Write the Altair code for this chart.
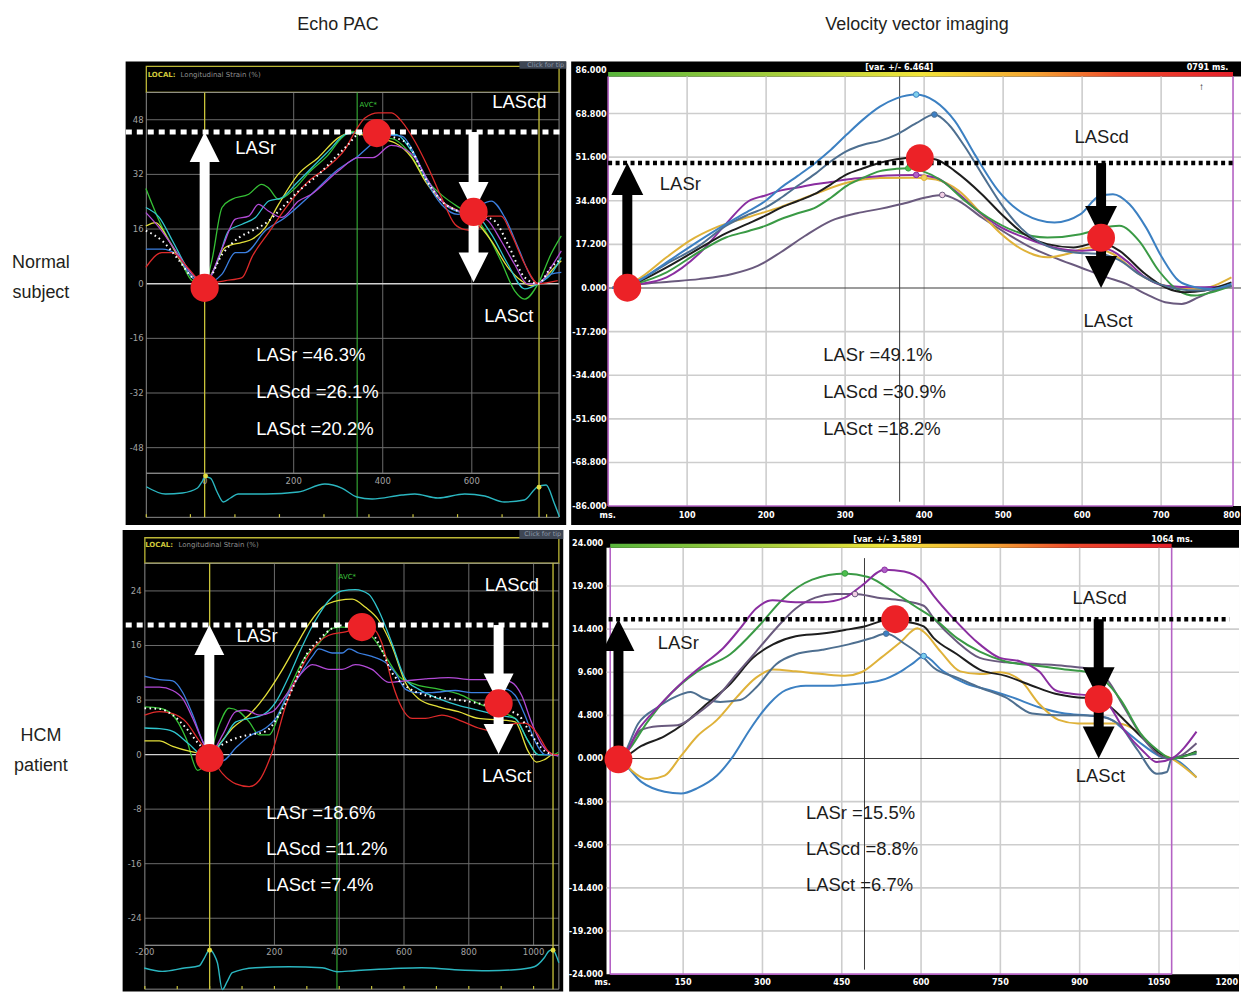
import altair as alt
import pandas as pd

SANS = "Liberation Sans, Arial, Helvetica, sans-serif"
NARROW = "Liberation Sans Narrow, Arial Narrow, DejaVu Sans Condensed, Liberation Sans, sans-serif"
SMALL = "DejaVu Sans, Verdana, sans-serif"

# ------------------------------------------------------------------ texts
col_titles = ["Echo PAC", "Velocity vector imaging"]
row_normal = ["Normal", "subject"]
row_hcm = ["HCM", "patient"]

# ================================================================== Panel A : Echo PAC, normal subject
A_green = [(-132, 27.9), (-95, 16.4), (-57, 7.7), (-28, 0.9), (0, 0), (16, 6.7), (39, 22.3), (61, 24.7),
           (99, 26.2), (128, 29.1), (143, 28.1), (166, 24.7), (204, 28.1), (234, 32.5), (278, 37.8),
           (308, 42.7), (331, 44.6), (353, 44.2), (383, 42.7), (420, 42.5), (457, 38.8), (494, 31.0),
           (532, 26.0), (569, 22.5), (606, 19.6), (637, 14.0), (666, 6.5), (696, -2.0), (719, -4.5),
           (749, 0), (778, 8.7), (801, 14.0)]
A_yellow = [(-132, 16.9), (-110, 17.9), (-80, 12.5), (-50, 5.7), (-20, 0.9), (0, 0), (20, 4.0), (46, 10.6),
            (84, 12.1), (106, 13.0), (136, 16.4), (166, 23.2), (210, 32.0), (255, 36.9), (300, 42.7),
            (330, 44.2), (350, 43.7), (383, 42.7), (428, 41.2), (465, 36.9), (495, 30.1), (532, 24.2),
            (569, 21.3), (607, 18.4), (644, 12.5), (681, 4.8), (711, 0.9), (734, -0.6), (749, 0),
            (786, 4.8), (801, 6.7)]
A_cyan = [(-132, 22.3), (-102, 19.4), (-72, 12.5), (-35, 3.8), (0, 0), (32, 7.7), (54, 15.5), (84, 17.4),
          (114, 19.4), (144, 24.2), (174, 25.2), (204, 29.1), (241, 34.0), (278, 38.8), (316, 43.7),
          (338, 44.2), (383, 43.7), (428, 43.7), (465, 38.8), (502, 30.1), (540, 23.2), (577, 20.8),
          (607, 20.3), (644, 14.5), (681, 5.7), (719, -1.5), (749, 0), (778, 2.8), (801, 7.7)]
A_blue = [(-132, 10.1), (-95, 10.1), (-65, 8.7), (-28, 1.8), (0, 0), (39, 2.8), (69, 9.1), (91, 9.1),
          (136, 15.5), (181, 19.4), (240, 26.2), (300, 33.5), (345, 37.4), (375, 40.8), (412, 43.5),
          (443, 43.2), (472, 37.8), (502, 29.1), (532, 23.2), (569, 20.3), (607, 22.3), (644, 24.2),
          (674, 19.4), (704, 10.6), (734, 1.8), (749, 0), (778, 2.8), (801, 3.3)]
A_purple = [(-132, 20.8), (-102, 16.4), (-65, 9.6), (-28, 2.8), (0, 0), (40, 10.6), (69, 18.9), (99, 19.8),
            (121, 23.2), (143, 21.3), (173, 19.4), (211, 24.2), (240, 26.2), (300, 33.0), (345, 36.9),
            (378, 36.9), (419, 40.5), (443, 39.8), (472, 36.9), (502, 30.1), (532, 24.2), (569, 21.3),
            (607, 20.3), (637, 18.4), (666, 12.5), (696, 5.7), (726, -0.1), (749, 0), (778, 4.8), (801, 9.6)]
A_red = [(-132, 4.8), (-96, 9.1), (-73, 9.1), (-40, 5.0), (0, 0), (47, 0.9), (84, 1.8), (107, 8.0),
         (144, 15.0), (181, 22.0), (234, 30.1), (278, 34.4), (316, 39.5), (340, 45.0), (360, 48.5),
         (390, 50.0), (420, 50.0), (442, 47.6), (472, 41.7), (502, 34.0), (532, 25.2), (562, 17.4),
         (585, 15.8), (607, 15.5), (637, 19.8), (666, 19.8), (689, 14.5), (719, 5.7), (749, 0), (793, 0.9)]
A_average = [(-132, 15.5), (-95, 12.5), (-57, 6.7), (-28, 1.8), (0, 0), (40, 8.7), (77, 13.5), (107, 15.5),
             (144, 18.4), (174, 22.3), (211, 27.1), (256, 32.0), (293, 36.9), (323, 40.8), (346, 43.7),
             (383, 43.7), (428, 42.7), (457, 40.8), (495, 31.0), (532, 24.2), (569, 21.3), (607, 20.3),
             (651, 18.4), (681, 11.6), (719, 1.8), (749, 0), (778, 4.8), (801, 7.2)]
A_ecg = [(-131, 13.3), (-88, 6), (-50, 7), (-16, 12), (-5, 19), (2, 23), (13, 22), (28, 8), (42, -2),
         (58, 2), (75, 6), (136, 6), (210, 8), (270, 16), (308, 12), (342, 3), (376, 1), (443, 5),
         (472, 6), (524, 2), (584, 6), (629, 4), (673, -2), (718, 0), (747, 13), (767, 15), (785, -3), (797, -17)]
A_yticks = [48, 32, 16, 0, -16, -32, -48]
A_xticks = [0, 200, 400, 600]
A_ecg_ticks = [-131, -32, 68, 168, 268, 369, 468, 568, 668, 768]
A_lasr = 44.4
A_points = [(0, -1.2), (386.6, 44.1), (604, 21.0)]
A_results = ["LASr =46.3%", "LAScd =26.1%", "LASct =20.2%"]

# ================================================================== Panel B : VVI, normal subject
B_blue = [(5, 0), (36, 2.5), (74, 10.1), (115, 18.6), (149, 25.2), (178, 30.4), (199, 34.3), (219, 39.6),
          (240, 44.2), (261, 49.0), (282, 54.5), (302, 60.5), (323, 66.5), (344, 71.5), (365, 74.8),
          (390, 76.3), (414, 73.6), (439, 65.8), (464, 52.7), (494, 38.3), (527, 29.1), (565, 25.8),
          (598, 29.1), (622, 36.3), (639, 37.0), (660, 33.0), (681, 23.8), (701, 12.1), (722, 2.9),
          (743, 0.3), (764, -0.4), (789, 1.6)]
B_steel = [(5, 0), (36, 2.5), (74, 9.5), (115, 16.6), (149, 24.5), (178, 29.0), (199, 31.7), (219, 35.6),
           (240, 40.3), (261, 44.8), (282, 50.0), (302, 54.0), (323, 56.5), (344, 58.0), (365, 60.5),
           (390, 65.0), (413, 68.4), (431, 64.5), (451, 56.0), (473, 45.0), (500, 32.0), (523, 23.5),
           (556, 16.5), (590, 14.0), (623, 13.4), (647, 11.0), (672, 5.5), (697, 1.6), (722, -0.4),
           (747, -1.0), (789, 0.9)]
B_black = [(5, 0), (36, 2.2), (74, 8.1), (115, 15.5), (149, 21.5), (178, 25.5), (199, 28.5), (219, 31.7),
           (240, 34.3), (261, 37.0), (282, 40.9), (302, 44.8), (323, 47.2), (344, 49.4), (365, 50.8),
           (390, 51.6), (415, 50.7), (439, 46.1), (473, 37.0), (498, 29.1), (527, 21.2), (556, 17.3),
           (589, 16.0), (622, 18.0), (647, 14.7), (680, 5.5), (705, 0.3), (730, -1.7), (755, -1.0), (789, 2.2)]
B_green = [(5, 0), (36, 1.8), (74, 6.2), (115, 14.2), (149, 19.9), (178, 22.5), (199, 24.5), (219, 27.2),
           (240, 29.5), (261, 31.5), (282, 35.6), (302, 40.3), (323, 43.5), (344, 46.1), (365, 47.0),
           (380, 47.2), (398, 46.1), (423, 42.2), (452, 34.3), (481, 27.8), (514, 22.5), (556, 19.9),
           (598, 21.2), (627, 23.8), (647, 24.5), (672, 18.6), (697, 6.8), (722, -1.0), (743, -3.0),
           (764, -1.7), (789, 0.9)]
B_purple = [(5, 0), (36, 1.3), (74, 4.2), (115, 13.5), (149, 25.2), (178, 34.3), (199, 36.5), (219, 38.5),
            (240, 39.6), (261, 40.9), (282, 41.8), (302, 42.8), (323, 43.5), (344, 44.2), (365, 44.5),
            (390, 44.6), (415, 43.5), (439, 38.3), (473, 29.1), (498, 23.8), (527, 19.9), (564, 16.0),
            (598, 14.7), (631, 15.3), (656, 10.7), (680, 4.2), (705, 0.9), (747, 0.3), (789, 0.7)]
B_gold = [(5, 0), (36, 3.1), (74, 12.1), (103, 18.6), (136, 23.8), (178, 28.0), (219, 32.0), (261, 37.0),
          (302, 41.5), (344, 43.4), (390, 43.5), (415, 42.8), (444, 38.3), (473, 29.1), (498, 21.2),
          (527, 14.7), (556, 12.1), (581, 13.4), (610, 16.0), (639, 13.4), (672, 5.5), (705, 0.9),
          (747, -0.4), (789, 4.2)]
B_lavender = [(5, 0), (36, 1.3), (74, 2.4), (115, 3.5), (157, 5.5), (190, 8.8), (219, 14.2), (249, 20.5),
              (282, 26.5), (315, 29.5), (344, 31.2), (373, 33.2), (402, 35.7), (423, 36.7), (444, 34.3),
              (473, 27.8), (506, 21.2), (535, 16.0), (564, 12.1), (598, 8.1), (631, 4.2), (656, 1.6),
              (681, -2.4), (705, -5.6), (726, -6.3), (747, -3.7), (772, -0.4), (789, 0.9)]
B_peaks = [("blue", 390, 76.3), ("steel", 413, 68.4), ("green", 380, 47.2), ("purple", 390, 44.6),
           ("gold", 400, 43.5), ("lavender", 423, 36.7)]
B_yticks = [86.0, 68.8, 51.6, 34.4, 17.2, 0.0, -17.2, -34.4, -51.6, -68.8, -86.0]
B_xticks = [100, 200, 300, 400, 500, 600, 700, 800]
B_lasr = 49.25
B_points = [(24.3, 0.1), (394.6, 51.2), (624, 19.8)]
B_results = ["LASr =49.1%", "LAScd =30.9%", "LASct =18.2%"]

# ================================================================== Panel C : Echo PAC, HCM patient
C_blue = [(-201, 11.5), (-155, 11.0), (-114, 10.8), (-83, 9.1), (-52, 5.8), (-22, 2.0), (0, 0), (40, -0.9),
          (81, 1.0), (122, 2.7), (173, 3.9), (204, 5.3), (235, 8.2), (276, 11.5), (317, 14.4), (337, 15.5),
          (378, 14.9), (409, 14.9), (430, 15.5), (460, 14.9), (501, 14.4), (543, 13.5), (573, 12.0),
          (604, 9.6), (635, 9.1), (686, 9.1), (758, 9.4), (809, 9.1), (871, 9.1), (912, 9.6), (943, 8.7),
          (973, 5.8), (1004, 2.0), (1035, 0), (1060, 0), (1076, -0.2)]
C_purple = [(-201, 9.9), (-155, 9.9), (-114, 9.4), (-83, 8.2), (-52, 5.3), (-22, 2.0), (0, 0), (40, 2.9),
            (81, 6.3), (112, 6.5), (153, 5.8), (194, 6.3), (235, 8.7), (276, 11.5), (317, 13.2), (368, 12.5),
            (409, 12.5), (450, 13.2), (501, 12.5), (553, 10.6), (604, 10.8), (666, 11.1), (738, 11.3),
            (809, 11.0), (891, 11.0), (932, 10.6), (963, 8.7), (993, 4.8), (1025, 1.5), (1060, 0), (1076, -0.2)]
C_green = [(-201, 7.0), (-155, 6.8), (-114, 5.8), (-73, 2.4), (-37, -2.3), (0, 0), (30, 4.4), (60, 6.8),
           (91, 6.3), (122, 4.8), (153, 2.9), (184, 2.9), (214, 5.8), (255, 10.6), (296, 14.4), (337, 16.3),
           (378, 18.5), (409, 18.7), (450, 18.5), (501, 17.3), (543, 14.4), (584, 11.5), (635, 10.3),
           (707, 9.6), (768, 8.9), (830, 7.5), (891, 6.3), (943, 5.3), (983, 2.0), (1014, 0), (1060, 0), (1076, 0.3)]
C_yellow = [(-201, 2.0), (-155, 2.0), (-114, 1.2), (-63, 0.5), (0, 0), (30, 1.5), (71, 3.9), (122, 5.8),
            (173, 8.7), (225, 12.5), (266, 15.9), (307, 19.2), (348, 21.6), (399, 22.6), (440, 22.8),
            (481, 21.6), (522, 19.7), (563, 15.9), (604, 10.6), (645, 8.2), (707, 7.0), (768, 6.3),
            (830, 5.3), (891, 5.1), (943, 4.8), (983, 0.5), (1009, -1.1), (1035, -0.7), (1060, 0), (1076, 0)]
C_cyan = [(-201, 3.9), (-155, 3.8), (-114, 3.4), (-63, 1.5), (-22, 0), (0, 0), (40, 2.0), (81, 4.8),
          (122, 5.3), (163, 5.8), (204, 7.7), (245, 11.5), (286, 15.9), (327, 19.7), (368, 22.6), (409, 24.0),
          (450, 24.2), (491, 23.5), (522, 21.1), (563, 16.3), (604, 11.1), (645, 9.6), (707, 8.2),
          (768, 7.2), (830, 6.5), (891, 5.8), (943, 5.3), (983, 2.0), (1014, 0), (1060, 0), (1076, 0)]
C_red = [(-201, 5.8), (-155, 6.3), (-114, 6.0), (-73, 4.8), (-32, 2.0), (0, 0), (40, -2.8), (81, -4.3),
         (122, -4.7), (153, -3.8), (194, 0.5), (235, 7.2), (276, 12.0), (317, 15.4), (368, 17.5), (419, 18.0),
         (460, 18.5), (501, 18.5), (532, 16.3), (563, 10.6), (594, 6.8), (625, 5.3), (666, 5.3), (717, 5.8),
         (768, 5.1), (830, 3.9), (881, 3.4), (922, 4.4), (973, 4.6), (1014, 2.9), (1045, 0.5), (1060, 0), (1076, 0)]
C_average = [(-201, 6.8), (-155, 6.7), (-114, 5.8), (-73, 3.9), (-32, 1.5), (0, 0), (40, 1.5), (81, 2.4),
             (122, 2.9), (173, 3.4), (214, 5.8), (255, 9.6), (296, 14.4), (337, 16.8), (378, 18.5), (419, 19.0),
             (481, 18.7), (522, 16.3), (563, 12.0), (604, 10.1), (666, 8.7), (738, 8.2), (809, 7.7),
             (891, 6.8), (953, 5.8), (993, 2.9), (1035, 0.5), (1060, 0)]
C_ecg = [(-202, 6.7), (-146, 3.3), (-78, 6.7), (-32, 9), (-16, 17), (0, 25), (14, 20), (24, 12), (39, -15),
         (54, -7), (70, 2), (141, 7), (245, 8), (347, 7), (393, 3), (447, 4), (655, 7), (756, 5), (861, 4),
         (941, 5), (1002, 8), (1033, 17), (1048, 24), (1060, 25), (1070, 19), (1078, 12)]
C_yticks = [24, 16, 8, 0, -8, -16, -24]
C_xticks = [-200, 200, 400, 600, 800, 1000]
C_ecg_ticks = [-200, -100, 0, 100, 200, 300, 400, 500, 600, 700, 800, 900, 1000]
C_lasr = 19.0
C_points = [(0, -0.5), (470, 18.7), (892, 7.5)]
C_results = ["LASr =18.6%", "LAScd =11.2%", "LASct =7.4%"]

# ================================================================== Panel D : VVI, HCM patient
D_purple = [(12, 0), (34, 0.1), (65, 3.2), (102, 5.7), (145, 8.3), (189, 10.5), (226, 12.3), (258, 14.5),
            (288, 16.7), (319, 17.6), (363, 17.4), (413, 17.4), (456, 17.9), (487, 19.2), (531, 21.0),
            (568, 20.8), (605, 19.6), (624, 18.1), (661, 15.6), (711, 12.7), (749, 11.2), (788, 10.8),
            (823, 9.7), (854, 7.6), (885, 7.2), (922, 7.0), (953, 6.1), (984, 3.2), (1022, 0.7), (1046, -0.4),
            (1074, 0), (1121, 3.0)]
D_green = [(12, 0), (34, 0.3), (84, 4.2), (115, 6.5), (177, 9.7), (239, 11.6), (294, 14.8), (338, 17.7),
           (394, 19.9), (456, 20.6), (500, 20.2), (549, 18.5), (587, 17.0), (624, 15.6), (668, 13.4),
           (711, 11.9), (760, 10.8), (823, 10.3), (872, 9.9), (915, 9.6), (946, 8.7), (978, 6.5),
           (1015, 2.8), (1046, 1.0), (1074, 0), (1121, 0.7)]
D_lavender = [(12, 0), (34, 0.3), (71, 3.2), (102, 3.6), (139, 3.7), (177, 5.0), (214, 6.8), (251, 9.4),
              (288, 11.9), (326, 14.5), (363, 16.7), (400, 17.9), (437, 18.3), (475, 18.3), (518, 17.9),
              (562, 17.6), (605, 17.0), (624, 15.6), (668, 13.0), (711, 11.2), (760, 10.7), (823, 10.5),
              (872, 10.3), (922, 9.9), (953, 8.7), (984, 5.7), (1022, 2.1), (1053, 0.3), (1074, 0), (1121, 1.7)]
D_black = [(12, 0), (34, 0.1), (71, 1.4), (115, 2.5), (152, 3.9), (195, 6.1), (239, 8.3), (282, 11.2),
           (320, 12.7), (363, 13.6), (413, 13.9), (456, 14.3), (493, 14.7), (537, 15.4), (574, 15.2),
           (605, 14.7), (624, 13.4), (668, 11.6), (711, 9.9), (760, 9.2), (810, 8.1), (854, 7.2), (897, 6.8),
           (934, 6.7), (959, 5.7), (991, 3.9), (1022, 2.1), (1053, 0.5), (1074, 0), (1121, 0.8)]
D_steel = [(12, 0), (34, 0.3), (65, 3.9), (102, 5.7), (133, 6.8), (164, 7.4), (189, 6.7), (220, 6.3),
           (258, 6.5), (288, 7.9), (326, 10.5), (363, 11.6), (413, 12.1), (463, 12.7), (506, 13.4),
           (534, 13.9), (568, 12.8), (605, 11.2), (624, 10.1), (668, 9.0), (711, 7.9), (760, 6.8), (810, 5.0),
           (854, 4.8), (897, 4.8), (934, 4.7), (972, 3.9), (1009, 1.0), (1046, -1.7), (1065, -1.5),
           (1074, 0), (1121, 0.5)]
D_gold = [(12, 0), (34, -0.1), (52, -1.3), (84, -2.3), (115, -1.9), (146, 0.3), (177, 2.5), (214, 4.3),
          (251, 6.8), (288, 9.0), (320, 9.9), (363, 9.7), (413, 9.4), (456, 9.2), (487, 9.6), (524, 11.2),
          (562, 13.0), (593, 14.5), (605, 14.1), (637, 11.9), (674, 9.7), (711, 9.4), (749, 9.6), (788, 8.7),
          (823, 6.1), (860, 4.3), (897, 3.9), (940, 3.9), (972, 3.9), (1009, 3.0), (1046, 0.7), (1074, 0),
          (1121, -2.1)]
D_blue = [(12, 0), (34, -0.4), (71, -2.6), (115, -3.7), (146, -3.9), (177, -3.3), (214, -1.9), (245, 0.3),
          (276, 3.2), (313, 6.1), (344, 7.6), (382, 8.1), (425, 8.1), (475, 8.3), (524, 8.7), (562, 9.7),
          (587, 10.7), (605, 11.4), (642, 9.7), (686, 8.3), (730, 7.6), (773, 6.8), (823, 5.7), (872, 5.0),
          (915, 4.8), (953, 4.5), (984, 3.2), (1022, 1.4), (1059, 0.1), (1074, 0), (1121, -2.1)]
D_peaks = [("green", 456, 20.6), ("purple", 531, 21.0), ("lavender", 475, 18.3), ("steel", 534, 13.9),
           ("blue", 605, 11.4)]
D_yticks = [24.0, 19.2, 14.4, 9.6, 4.8, 0.0, -4.8, -9.6, -14.4, -19.2, -24.0]
D_xticks = [150, 300, 450, 600, 750, 900, 1050, 1200]
D_lasr = 15.5
D_points = [(27.6, -0.1), (551, 15.5), (936, 6.6)]
D_results = ["LASr =15.5%", "LAScd =8.8%", "LASct =6.7%"]

# ------------------------------------------------------------------ styles
ECHO_COLORS = {"green": "#36c236", "yellow": "#e4e03a", "cyan": "#30c6cf", "blue": "#3b7fe0",
               "purple": "#b24ad6", "red": "#de2a2a"}
VVI_COLORS = {"blue": "#3c80c2", "steel": "#4e6f90", "black": "#1e1e1e", "green": "#3a9a45",
              "purple": "#8a2ea0", "gold": "#dfb23a", "lavender": "#6a5a7e"}
VVI_FILL = {"blue": "#7fd0ec", "steel": "#3d7fc4", "green": "#4cc04c", "purple": "#b060c8",
            "gold": "#f0d060", "lavender": "#f2cfe4", "black": "#444444"}
RED_DOT = "#ec2227"
GRAD = alt.Gradient(gradient="linear", x1=0, x2=1, y1=0, y2=0,
                    stops=[alt.GradientStop(color="#58b53c", offset=0),
                           alt.GradientStop(color="#a9cf3e", offset=0.28),
                           alt.GradientStop(color="#f2e43a", offset=0.5),
                           alt.GradientStop(color="#f4a533", offset=0.68),
                           alt.GradientStop(color="#ee4a2c", offset=0.82),
                           alt.GradientStop(color="#e51f2a", offset=1)])


class Panel:
    def __init__(self, W, H, xd, yd):
        self.W, self.H, self.xd, self.yd = W, H, xd, yd
        self.xs = alt.Scale(domain=list(xd), nice=False, zero=False)
        self.ys = alt.Scale(domain=list(yd), nice=False, zero=False)
        self.ppu = H / (yd[1] - yd[0])
        self.ppx = W / (xd[1] - xd[0])
        self.L = []

    def X(self, f="x"):
        return alt.X(f + ":Q", scale=self.xs, axis=None)

    def Y(self, f="y"):
        return alt.Y(f + ":Q", scale=self.ys, axis=None)

    def rect(self, x, x2, y, y2, **mk):
        df = pd.DataFrame([{"x": x, "x2": x2, "y": y, "y2": y2}])
        self.L.append(alt.Chart(df).mark_rect(**mk).encode(
            x=self.X(), x2=alt.X2("x2:Q"), y=self.Y(), y2=alt.Y2("y2:Q")))

    def segs(self, rows, **mk):
        df = pd.DataFrame(rows, columns=["x", "y", "x2", "y2"])
        self.L.append(alt.Chart(df).mark_rule(**mk).encode(
            x=self.X(), y=self.Y(), x2=alt.X2("x2:Q"), y2=alt.Y2("y2:Q")))

    def text(self, rows, **mk):
        df = pd.DataFrame(rows, columns=["x", "y", "t"])
        self.L.append(alt.Chart(df).mark_text(**mk).encode(x=self.X(), y=self.Y(), text="t:N"))

    def curves(self, named, colors, **mk):
        rows = []
        for name, pts in named.items():
            for i, (x, y) in enumerate(pts):
                rows.append({"s": name, "x": x, "y": y, "o": i, "c": colors[name]})
        self.L.append(alt.Chart(pd.DataFrame(rows)).mark_line(**mk).encode(
            x=self.X(), y=self.Y(), detail="s:N", order="o:Q", color=alt.Color("c:N", scale=None)))

    def line(self, pts, **mk):
        df = pd.DataFrame([{"x": x, "y": y, "o": i} for i, (x, y) in enumerate(pts)])
        self.L.append(alt.Chart(df).mark_line(**mk).encode(x=self.X(), y=self.Y(), order="o:Q"))

    def dots(self, pts, **mk):
        df = pd.DataFrame(pts, columns=["x", "y"])
        self.L.append(alt.Chart(df).mark_circle(**mk).encode(x=self.X(), y=self.Y()))

    def markers(self, peaks, stroke, fill, size=32):
        df = pd.DataFrame([{"x": x, "y": y, "c": stroke[n], "f": fill[n]} for n, x, y in peaks])
        self.L.append(alt.Chart(df).mark_circle(size=size, opacity=1, strokeWidth=1).encode(
            x=self.X(), y=self.Y(), fill=alt.Fill("f:N", scale=None), stroke=alt.Stroke("c:N", scale=None)))

    def arrows(self, arrs, color, shaft, head):
        hl = head / self.ppu
        sh, up, dn = [], [], []
        for x, y0, y1 in arrs:
            d = 1 if y1 > y0 else -1
            sh.append((x, y0, x, y1 - d * hl * 0.85))
            (up if d > 0 else dn).append((x, y1 - d * hl / 2))
        self.segs(sh, color=color, strokeWidth=shaft, strokeCap="butt")
        for pts, path in ((up, "M-1,1L0,-1L1,1Z"), (dn, "M-1,-1L0,1L1,-1Z")):
            if pts:
                df = pd.DataFrame(pts, columns=["x", "y"])
                self.L.append(alt.Chart(df).mark_point(shape=path, size=head * head, filled=True, opacity=1,
                                                       color=color, strokeWidth=0).encode(x=self.X(), y=self.Y()))

    def chart(self):
        return alt.layer(*self.L).properties(width=self.W, height=self.H)


def big_text(P, rows, color):
    P.text(rows, color=color, fontSize=18.5, font=SANS, align="left", baseline="middle")


# ------------------------------------------------------------------ Echo PAC builder
def echo_panel(W, H, xd, yd, g, curves, avg, ecg, yticks, xticks, ecg_ticks, lasr, points, arrows,
               notes, results):
    P = Panel(W, H, xd, yd)
    P.rect(xd[0], xd[1], yd[0], yd[1], color="black")
    # header box
    P.rect(g["x0"], g["x1"], g["top"], g["htop"], fillOpacity=0, stroke="#bdb736", strokeWidth=1.3)
    P.text([(g["local_x"], g["htext"], "LOCAL:")], color="#cfc83a", fontSize=7, font=SMALL,
           fontWeight="bold", align="left", baseline="middle")
    P.text([(g["lsx"], g["htext"], "Longitudinal Strain (%)")], color="#8e8e8e", fontSize=7, font=SMALL,
           align="left", baseline="middle")
    P.rect(g["tip_x"], xd[1], g["tip_y"], yd[1], color="#3e4654")
    P.text([(xd[1] - 2 / P.ppx, yd[1] - 4.0 / P.ppu, "Click for tip")],
           color="#8f9aa8", fontSize=6.5, font=SMALL, align="right", baseline="middle")
    # grid
    P.segs([(g["x0"], v, g["x1"], v) for v in yticks if v != 0], color="#6c6c6c", strokeWidth=1)
    P.segs([(x, g["bot"], x, g["top"]) for x in g["vgrid"]], color="#6c6c6c", strokeWidth=1)
    P.segs([(g["x0"], 0, g["x1"], 0)], color="#d2d2d2", strokeWidth=1.4)
    P.rect(g["x0"], g["x1"], g["bot"], g["top"], fillOpacity=0, stroke="#8c8c8c", strokeWidth=1)
    P.rect(g["x0"], g["x1"], g["sbot"], g["bot"], fillOpacity=0, stroke="#8c8c8c", strokeWidth=1)
    P.segs([(x, g["top"], x, g["sbot"]) for x in g["yellow"]], color="#c9c33a", strokeWidth=1.3)
    P.segs([(g["avc"], g["top"], g["avc"], g["sbot"])], color="#3cc23c", strokeWidth=1)
    P.text([(g["avc_lx"], g["avc_ly"], "AVC*")], color="#3cc23c", fontSize=7, font=SMALL, align="left",
           baseline="middle")
    P.text([(g["ylab_x"], v, str(v)) for v in yticks], color="#a3a3a3", fontSize=8.5, font=SMALL,
           align="right", baseline="middle")
    # ECG strip
    P.segs([(x, g["sbot"], x, g["sbot"] + 3.2 / P.ppu) for x in ecg_ticks], color="#c9c33a", strokeWidth=1.2)
    P.text([(x, g["xlab_y"], str(x)) for x in xticks], color="#a3a3a3", fontSize=8.5, font=SMALL,
           align="center", baseline="middle")
    P.line([(x, g["ecg_base"] + a / P.ppu) for x, a in ecg], color="#2bb6c0", strokeWidth=1.4,
           interpolate="monotone")
    P.dots([(x, y) for x, y in g["ecg_dots"]], size=24, color="#e2dc40", opacity=1)
    # strain curves
    P.curves(curves, ECHO_COLORS, strokeWidth=1.3, interpolate="monotone")
    P.line(avg, color="white", strokeWidth=2, strokeDash=[1.6, 3.4], interpolate="monotone")
    # LASr reference level
    P.segs([(g["dot_x0"], lasr, g["dot_x1"], lasr)], color="white", strokeWidth=5, strokeDash=[6, 5])
    P.arrows(arrows, "white", 10, 30)
    P.dots(points, size=800, color=RED_DOT, opacity=1)
    big_text(P, notes, "white")
    big_text(P, [(g["res_x"], y, t) for y, t in zip(g["res_y"], results)], "white")
    return P.chart()


# ------------------------------------------------------------------ VVI builder
def vvi_panel(W, H, xd, yd, g, curves, peaks, yticks, xticks, lasr, points, arrows, notes, results):
    P = Panel(W, H, xd, yd)
    P.rect(xd[0], xd[1], yd[0], yd[1], color="black")
    P.rect(g["wx0"], xd[1], g["bot"], g["wtop"], color="white")
    P.rect(g["p0"], g["p1"], g["wtop"], g["gtop"], color=GRAD)
    P.segs([(g["wx0"], v, xd[1], v) for v in yticks if g["bot"] < v < g["wtop"] and v != 0],
           color="#cdcdcd", strokeWidth=1.6)
    P.segs([(x, g["bot"], x, g["wtop"]) for x in xticks if x < xd[1] - 5], color="#cdcdcd", strokeWidth=1.6)
    P.segs([(g["wx0"], 0, xd[1], 0)], color="#3a3a3a", strokeWidth=1.1)
    P.segs([(g["p0"], g["bot"], g["p0"], g["wtop"]), (g["p1"], g["bot"], g["p1"], g["wtop"]),
            (g["p0"], g["bot"], g["p1"], g["bot"])], color="#b462c4", strokeWidth=1.6)
    P.segs([(g["cursor"], g["c_top"], g["cursor"], g["c_bot"])], color="#3a3a3a", strokeWidth=1)
    tick_style = dict(color="white", fontSize=9, font=NARROW, fontWeight="bold", baseline="middle")
    P.text([(g["ylab_x"], v, f"{v:.3f}") for v in yticks], align="right", **tick_style)
    P.text([(g["ms_x"], g["xlab_y"], "ms.")] + [(x, g["xlab_y"], str(x)) for x in xticks[:-1]],
           align="center", **tick_style)
    P.text([(xd[1] - 1 / P.ppx, g["xlab_y"], str(xticks[-1]))], align="right", **tick_style)
    P.text([(g["var_x"], g["head_y"], g["var_text"])], align="center", **tick_style)
    P.text([(g["ms_right"], g["head_y"], g["ms_text"])], align="right", **tick_style)
    if g.get("glyph"):
        P.text([g["glyph"]], color="#222222", fontSize=10, font=SANS, align="center", baseline="middle")
    P.curves(curves, VVI_COLORS, strokeWidth=2, interpolate="monotone")
    P.markers(peaks, VVI_COLORS, VVI_FILL)
    P.segs([(g["dot_x0"], lasr, g["dot_x1"], lasr)], color="black", strokeWidth=4.5, strokeDash=[4, 3.5])
    P.arrows(arrows, "black", 10, 32)
    P.dots(points, size=780, color=RED_DOT, opacity=1)
    big_text(P, notes, "#1c1c1c")
    big_text(P, [(g["res_x"], y, t) for y, t in zip(g["res_y"], results)], "#1c1c1c")
    return P.chart()


# ------------------------------------------------------------------ panels
gA = dict(x0=-131, x1=796, top=56.0, bot=-55.5, sbot=-68.4, htop=63.6, htext=61.0, local_x=-128, lsx=-54,
          tip_x=707, tip_y=62.9, vgrid=[200, 400, 600], yellow=[0, 751], avc=342.5, avc_lx=348, avc_ly=52.2,
          ylab_x=-137, xlab_y=-57.8, ecg_base=-63.32, ecg_dots=[(2, -56.3), (751, -59.6)],
          dot_x0=-177, dot_x1=800, res_x=115.8, res_y=[-21.0, -31.8, -42.6])
panelA = echo_panel(
    442, 465, (-177.5, 812.0), (-70.62, 65.07), gA,
    {"green": A_green, "yellow": A_yellow, "cyan": A_cyan, "blue": A_blue, "purple": A_purple, "red": A_red},
    A_average, A_ecg, A_yticks, A_xticks, A_ecg_ticks, A_lasr, A_points,
    [(0, -1.2, A_lasr), (604, A_lasr, 21.0), (604, 21.0, 0.4)],
    [(68.7, 39.6, "LASr"), (646, 53.1, "LAScd"), (628, -9.6, "LASct")], A_results)

gC = dict(x0=-200, x1=1078, top=28.06, bot=-27.97, sbot=-34.4, htop=31.8, htext=30.7, local_x=-199, lsx=-96,
          tip_x=956, tip_y=31.6, vgrid=[200, 400, 600, 800, 1000], yellow=[0, 1060], avc=393, avc_lx=398,
          avc_ly=26.05, ylab_x=-210, xlab_y=-29.0, ecg_base=-32.28, ecg_dots=[(0, -28.7), (1060, -28.7)],
          dot_x0=-259, dot_x1=1054, res_x=174.5, res_y=[-8.6, -13.9, -19.1])
panelC = echo_panel(
    442, 463, (-268.6, 1091.4), (-34.73, 32.95), gC,
    {"green": C_green, "yellow": C_yellow, "cyan": C_cyan, "blue": C_blue, "purple": C_purple, "red": C_red},
    C_average, C_ecg, C_yticks, C_xticks, C_ecg_ticks, C_lasr, C_points,
    [(-1, -0.5, C_lasr), (892, C_lasr, 7.5), (892, 7.5, 0.1)],
    [(83, 17.4, "LASr"), (849, 24.8, "LAScd"), (841, -3.2, "LASct")], C_results)

gB = dict(wx0=0, bot=-86.0, wtop=83.4, gtop=85.2, p0=0, p1=791, cursor=369, c_top=83.4, c_bot=-84.3,
          ylab_x=-1.8, xlab_y=-89.5, ms_x=-0.6, var_x=368.4, head_y=87.0, var_text="[var. +/- 6.464]",
          ms_right=785, ms_text="0791 ms.", glyph=(751, 79.1, "\u2191"),
          dot_x0=0, dot_x1=791, res_x=272.4, res_y=[-26.6, -41.2, -55.7])
panelB = vvi_panel(
    672, 465, (-46.76, 801.1), (-93.44, 89.35), gB,
    {"lavender": B_lavender, "gold": B_gold, "purple": B_purple, "green": B_green, "black": B_black,
     "steel": B_steel, "blue": B_blue},
    B_peaks, B_yticks, B_xticks, B_lasr, B_points,
    [(24.3, 0.1, B_lasr), (624, B_lasr, 19.8), (624, 19.8, 0.0)],
    [(65.5, 41.2, "LASr"), (590.4, 59.6, "LAScd"), (601.6, -13.2, "LASct")], B_results)

gD = dict(wx0=5, bot=-24.0, wtop=23.45, gtop=23.9, p0=12, p1=1074, cursor=493, c_top=22.3, c_bot=-23.5,
          ylab_x=-1.2, xlab_y=-24.85, ms_x=-2.2, var_x=536, head_y=24.46, var_text="[var. +/- 3.589]",
          ms_right=1114, ms_text="1064 ms.",
          dot_x0=9, dot_x1=1183, res_x=382.3, res_y=[-6.08, -10.1, -14.1])
panelD = vvi_panel(
    672, 463, (-65.6, 1201.4), (-25.92, 25.44), gD,
    {"blue": D_blue, "gold": D_gold, "steel": D_steel, "black": D_black, "lavender": D_lavender,
     "green": D_green, "purple": D_purple},
    D_peaks, D_yticks, D_xticks, D_lasr, D_points,
    [(27.6, -0.1, D_lasr), (936, D_lasr, 6.6), (936, 6.6, 0.0)],
    [(102, 12.85, "LASr"), (886.5, 17.86, "LAScd"), (892.7, -1.98, "LASct")], D_results)


# ------------------------------------------------------------------ titles & row labels
def label_chart(lines, ys, W, H, xc):
    layers = [alt.Chart(pd.DataFrame({"t": [t]})).mark_text(
        fontSize=18, font=SANS, color="#231f20", align="center", baseline="middle").encode(
        x=alt.value(xc), y=alt.value(y), text="t:N") for t, y in zip(lines, ys)]
    return alt.layer(*layers).properties(width=W, height=H)


blank = label_chart([""], [20], 110, 47, 50)
titleA = label_chart([col_titles[0]], [15], 442, 47, 216)
titleB = label_chart([col_titles[1]], [15], 672, 47, 350)
lab1 = label_chart(row_normal, [202, 232], 110, 465, 33)
lab2 = label_chart(row_hcm, [207, 237], 110, 463, 33)

header = alt.hconcat(blank, titleA, titleB, spacing=5)
row1 = alt.hconcat(lab1, panelA, panelB, spacing=5)
row2 = alt.hconcat(lab2, panelC, panelD, spacing=5)

chart = alt.vconcat(header, row1, row2, spacing=5).properties(
    padding={"left": 0, "right": 0, "top": 0, "bottom": 0}
).configure_view(stroke=None)

chart.save("out.html", embed_options={"renderer": "svg", "actions": False})
